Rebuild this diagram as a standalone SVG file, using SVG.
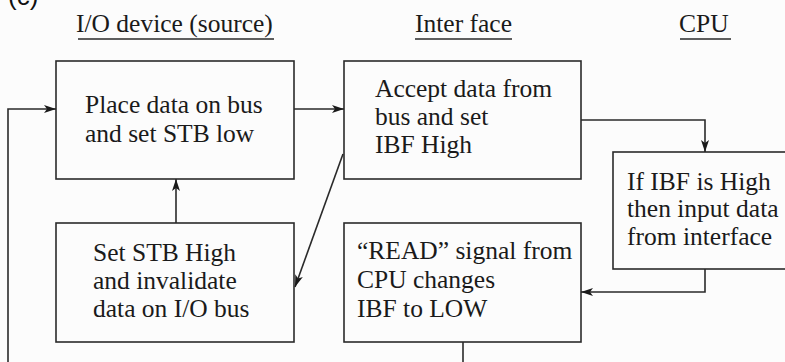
<svg xmlns="http://www.w3.org/2000/svg" width="785" height="362" viewBox="0 0 785 362">
<style>
.box{fill:none;stroke:#2a2a2a;stroke-width:1.6}
.t{font-family:"Liberation Serif","Times New Roman",serif;font-size:25.5px;fill:#1a1a1a}
.h{font-family:"Liberation Serif","Times New Roman",serif;font-size:25.5px;fill:#1a1a1a}
.ul{stroke:#2a2a2a;stroke-width:1.4}
.c{fill:none;stroke:#2a2a2a;stroke-width:1.6}
</style>
<defs>
<marker id="ah" viewBox="0 0 12 8" refX="12" refY="4" markerWidth="12" markerHeight="8" markerUnits="userSpaceOnUse" orient="auto">
<path d="M0,0 L12,4 L0,8 L3,4 Z" fill="#1a1a1a"/>
</marker>
</defs>
<rect width="785" height="362" fill="#fcfcfc"/>
<text x="8" y="5" style="font-family:'Liberation Sans',Arial,sans-serif;font-size:26px;fill:#111">(c)</text>
<g id="headers">
<text class="h" x="76" y="32">I/O device (source)</text>
<line class="ul" x1="78" y1="39" x2="274" y2="39"/>
<text class="h" x="415" y="32">Inter face</text>
<line class="ul" x1="415" y1="39" x2="512" y2="39"/>
<text class="h" x="679" y="32">CPU</text>
<line class="ul" x1="680" y1="39" x2="731" y2="39"/>
</g>
<g id="place">
<rect class="box" x="56" y="61" width="238" height="118"/>
<text class="t" x="85" y="113">Place data on bus</text>
<text class="t" x="85" y="142">and set STB low</text>
</g>
<g id="accept">
<rect class="box" x="344" y="61" width="237" height="118"/>
<text class="t" x="375" y="97">Accept data from</text>
<text class="t" x="375" y="125">bus and set</text>
<text class="t" x="375" y="153">IBF High</text>
</g>
<g id="cpu">
<rect class="box" x="613" y="152" width="200" height="117"/>
<text class="t" x="627" y="190">If IBF is High</text>
<text class="t" x="627" y="217">then input data</text>
<text class="t" x="627" y="245">from interface</text>
</g>
<g id="setstb">
<rect class="box" x="56" y="223" width="238" height="119"/>
<text class="t" x="93" y="261">Set STB High</text>
<text class="t" x="93" y="289">and invalidate</text>
<text class="t" x="93" y="317">data on I/O bus</text>
</g>
<g id="read">
<rect class="box" x="344" y="223" width="237" height="119"/>
<text class="t" x="357" y="259">“READ” signal from</text>
<text class="t" x="357" y="288">CPU changes</text>
<text class="t" x="357" y="317">IBF to LOW</text>
</g>
<g id="connectors">
<path class="c" d="M8,362 V109 H56" marker-end="url(#ah)"/>
<path class="c" d="M294,109 H344" marker-end="url(#ah)"/>
<path class="c" d="M581,120 H705 V152" marker-end="url(#ah)"/>
<path class="c" d="M705,269 V292 H581" marker-end="url(#ah)"/>
<path class="c" d="M463,342 V362"/>
<path class="c" d="M176,223 V179" marker-end="url(#ah)"/>
<path class="c" d="M343,154 L295,287" marker-end="url(#ah)"/>
</g>
</svg>
